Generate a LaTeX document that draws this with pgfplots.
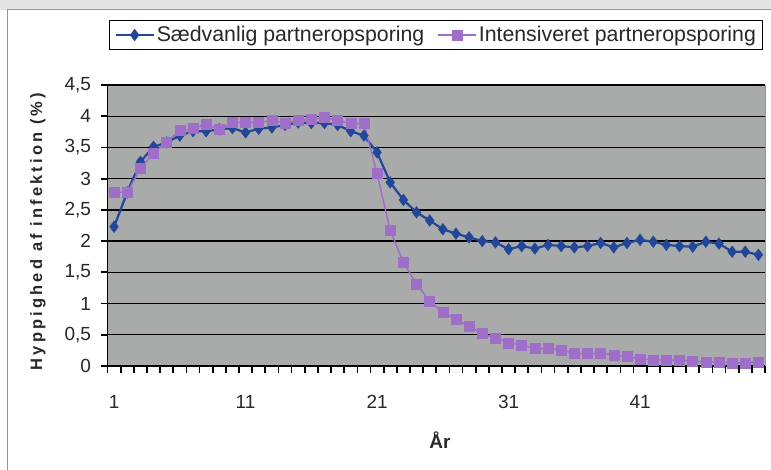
\documentclass[border=0pt]{standalone}
\usepackage{fontspec}
\setmainfont{Liberation Sans}
\usepackage{pgfplots}
\pgfplotsset{compat=1.18}
\usepackage{pgfplotstable}

\definecolor{plotbg}{RGB}{169,171,171}
\definecolor{seriesblue}{RGB}{34,70,152}
\definecolor{seriespurple}{RGB}{158,110,200}
\definecolor{framegray}{RGB}{150,150,150}
\definecolor{stripgray}{RGB}{228,228,228}
\definecolor{labelgray}{RGB}{40,40,40}

% Sædvanlig partneropsporing
\pgfplotstableread{
aar vaerdi
1 2.23
2 2.78
3 3.27
4 3.51
5 3.58
6 3.69
7 3.76
8 3.76
9 3.79
10 3.81
11 3.74
12 3.80
13 3.82
14 3.86
15 3.90
16 3.89
17 3.89
18 3.86
19 3.76
20 3.69
21 3.42
22 2.94
23 2.66
24 2.46
25 2.33
26 2.19
27 2.12
28 2.06
29 2.00
30 1.98
31 1.87
32 1.92
33 1.88
34 1.94
35 1.92
36 1.90
37 1.92
38 1.97
39 1.90
40 1.97
41 2.02
42 1.99
43 1.94
44 1.92
45 1.91
46 1.99
47 1.96
48 1.83
49 1.83
50 1.78
}\saedvanlig

% Intensiveret partneropsporing
\pgfplotstableread{
aar vaerdi
1 2.78
2 2.78
3 3.16
4 3.41
5 3.59
6 3.77
7 3.80
8 3.87
9 3.79
10 3.90
11 3.90
12 3.90
13 3.93
14 3.89
15 3.93
16 3.95
17 3.98
18 3.93
19 3.88
20 3.88
21 3.08
22 2.17
23 1.66
24 1.31
25 1.04
26 0.86
27 0.75
28 0.63
29 0.52
30 0.45
31 0.37
32 0.34
33 0.28
34 0.28
35 0.26
36 0.20
37 0.20
38 0.20
39 0.18
40 0.15
41 0.11
42 0.10
43 0.10
44 0.09
45 0.08
46 0.06
47 0.06
48 0.05
49 0.05
50 0.06
}\intensiveret

\begin{document}
\begin{tikzpicture}
\path[use as bounding box] (0pt,0pt) rectangle (771pt,470pt);
% chart frame
\fill[stripgray] (0pt,460pt) rectangle (771pt,470pt);
\fill[white] (7pt,0pt) rectangle (771pt,460pt);
\draw[framegray, line width=1pt] (7pt,-5pt) -- (7pt,460pt) -- (780pt,460pt);
\begin{axis}[
  at={(107.5pt,104pt)}, anchor=south west,
  width=657.5pt, height=281pt, scale only axis,
  xmin=0.5, xmax=50.5, ymin=0, ymax=4.5,
  clip=false,
  axis background/.style={fill=plotbg},
  axis x line*=bottom, axis y line*=left,
  axis line style={-, black, line width=1.4pt},
  major tick length=0pt,
  xtick={1,11,21,31,41},
  ytick={0,0.5,1,1.5,2,2.5,3,3.5,4,4.5},
  ymajorgrids,
  major grid style={black, line width=1.4pt},
  /pgf/number format/assume math mode=true,
  /pgf/number format/use comma,
  /pgf/number format/fixed,
  /pgf/number format/precision=1,
  ticklabel style={font=\fontsize{19}{22}\selectfont, text=labelgray},
  xticklabel style={anchor=center, yshift=-36pt},
  yticklabel style={anchor=east, xshift=-13pt},
  xlabel={År},
  ylabel={Hyppighed af infektion (\%)},
  xlabel style={at={(axis description cs:0.5057,-0.263)}, anchor=center,
    font=\bfseries\fontsize{19}{22}\selectfont, text=labelgray},
  ylabel style={at={(axis description cs:-0.1057,0.4786)}, anchor=center,
    font=\bfseries\fontsize{16.5}{20}\selectfont\addfontfeatures{LetterSpace=19}, text=labelgray},
  legend columns=2,
  legend style={at={(axis description cs:0.5,1.1246)}, anchor=south,
    draw=black, line width=1pt, fill=white,
    font=\fontsize{21.3}{24}\selectfont, text=labelgray,
    inner xsep=5pt, inner ysep=4pt,
    /tikz/every even column/.append style={column sep=11pt}},
  legend cell align=left,
  legend image code/.code={
    \draw[mark repeat=2, mark phase=2, #1]
      plot coordinates {(0pt,0pt) (19pt,0pt) (38pt,0pt)};
  },
]
\addplot[seriesblue, line width=2.2pt, mark=diamond*, mark size=5.8pt,
  mark options={solid, line width=0.5pt, fill=seriesblue}]
  table[x=aar, y=vaerdi] {\saedvanlig};
\addlegendentry{Sædvanlig partneropsporing}
\addplot[seriespurple, line width=1.5pt, mark=square*, mark size=5pt,
  mark options={solid, line width=0.5pt, fill=seriespurple}]
  table[x=aar, y=vaerdi] {\intensiveret};
\addlegendentry{Intensiveret partneropsporing}
% tick marks at the category boundaries and at the value steps
\pgfplotsinvokeforeach{0.5,1.5,...,50.5}{
  \draw[black, line width=1.7pt] (axis cs:#1,0) -- ++(0pt,-7pt);
}
\pgfplotsinvokeforeach{0,0.5,...,4.5}{
  \draw[black, line width=1.7pt] (axis cs:0.5,#1) -- ++(-7pt,0pt);
}
% right edge of the plot area
\draw[framegray, line width=1pt] (rel axis cs:1,0) -- (rel axis cs:1,1);
\end{axis}
\end{tikzpicture}
\end{document}
